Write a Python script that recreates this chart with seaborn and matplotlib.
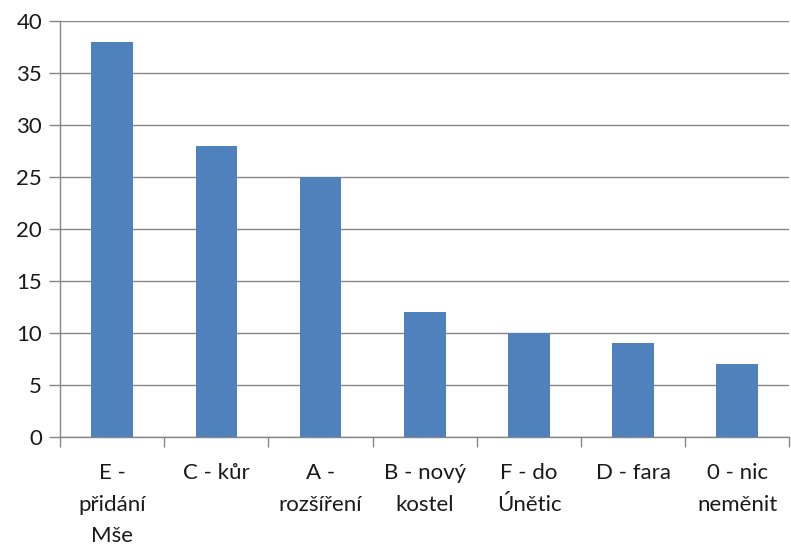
import numpy as np
import pandas as pd
import seaborn as sns
import matplotlib.pyplot as plt

categories = ['E -\npřidání\nMše', 'C - kůr', 'A -\nrozšíření', 'B - nový\nkostel',
              'F - do\nÚnětic', 'D - fara', '0 - nic\nneměnit']
values = [38, 28, 25, 12, 10, 9, 7]

sns.set_theme(style='white')
plt.rcParams['font.family'] = ['Lato', 'DejaVu Sans']

df = pd.DataFrame({'cat': categories, 'val': values})

fig = plt.figure(figsize=(7.91, 5.51), dpi=100)
ax = fig.add_axes([0.076, 0.207, 0.922, 0.755])
sns.barplot(data=df, x='cat', y='val', color='#4F81BD', width=0.4,
            saturation=1, linewidth=0, ax=ax, zorder=3)

grid_c = '#868686'
ax.set_ylim(0, 40)
ax.set_xlim(-0.5, len(categories) - 0.5)
ax.set_yticks(np.arange(0, 41, 5))
ax.yaxis.grid(True, color=grid_c, linewidth=1)
ax.set_axisbelow(True)
ax.set_xlabel('')
ax.set_ylabel('')

for s in ['top', 'right']:
    ax.spines[s].set_visible(False)
for s in ['left', 'bottom']:
    ax.spines[s].set_color(grid_c)
    ax.spines[s].set_linewidth(1)

ax.tick_params(axis='y', length=8, color=grid_c, width=1, labelsize=16,
               pad=5, labelcolor='#1a1a1a', left=True)
ax.set_xticks(np.arange(-0.5, len(categories) + 0.5, 1), minor=True)
ax.tick_params(axis='x', which='minor', length=7, color=grid_c, width=1, bottom=True)
ax.tick_params(axis='x', which='major', length=0, labelsize=16, pad=19,
               labelcolor='#1a1a1a')
for lab in ax.get_xticklabels():
    lab.set_linespacing(1.7)
    lab.set_verticalalignment('top')

fig.savefig('out.png', dpi=100)
